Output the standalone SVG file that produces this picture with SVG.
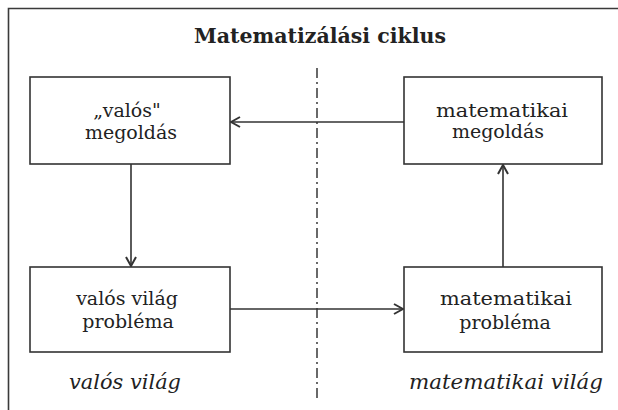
<svg xmlns="http://www.w3.org/2000/svg" width="618" height="410" viewBox="0 0 618 410">
<defs>
<style>
.frame{stroke:#3a3a3a;stroke-width:1.6;fill:none}
.box{fill:#fff;stroke:#333;stroke-width:1.6}
.lbl{font-family:"DejaVu Serif","Liberation Serif",serif;font-size:19px;fill:#222;text-anchor:middle}
.title{font-family:"DejaVu Serif","Liberation Serif",serif;font-size:20px;font-weight:bold;fill:#222;text-anchor:middle}
.world{font-family:"DejaVu Serif","Liberation Serif",serif;font-size:20px;font-style:italic;fill:#222;text-anchor:middle}
.conn{stroke:#333;stroke-width:1.6;fill:none}
.axis{stroke:#444;stroke-width:1.6;stroke-dasharray:10 4 2 4}
</style>
<marker id="arr" viewBox="0 0 12 12" refX="11" refY="6" markerWidth="12" markerHeight="12" markerUnits="userSpaceOnUse" orient="auto">
<path d="M2,1 L11,6 L2,11" fill="none" stroke="#333" stroke-width="2"/>
</marker>
</defs>
<rect width="618" height="410" fill="#fff"/>
<path class="frame" d="M8.5,410 V8.5 H618"/>
<text class="title" x="320" y="43" textLength="252" lengthAdjust="spacingAndGlyphs">Matematizálási ciklus</text>
<line class="axis" x1="317" y1="68" x2="317" y2="400"/>
<g id="connectors">
<line class="conn" x1="404" y1="122" x2="231" y2="122" marker-end="url(#arr)"/>
<line class="conn" x1="131" y1="164" x2="131" y2="266" marker-end="url(#arr)"/>
<line class="conn" x1="230" y1="309" x2="403" y2="309" marker-end="url(#arr)"/>
<line class="conn" x1="503" y1="267" x2="503" y2="165" marker-end="url(#arr)"/>
</g>
<g id="valos-megoldas">
<rect class="box" x="30" y="77" width="200" height="87"/>
<text class="lbl" x="127" y="117">„valós"</text>
<text class="lbl" x="131" y="139">megoldás</text>
</g>
<g id="matematikai-megoldas">
<rect class="box" x="404" y="77" width="198" height="87"/>
<text class="lbl" x="502" y="117" textLength="132" lengthAdjust="spacingAndGlyphs">matematikai</text>
<text class="lbl" x="498" y="138">megoldás</text>
</g>
<g id="valos-vilag-problema">
<rect class="box" x="30" y="267" width="200" height="85"/>
<text class="lbl" x="127" y="305">valós világ</text>
<text class="lbl" x="128" y="328">probléma</text>
</g>
<g id="matematikai-problema">
<rect class="box" x="404" y="267" width="198" height="85"/>
<text class="lbl" x="506" y="305" textLength="132" lengthAdjust="spacingAndGlyphs">matematikai</text>
<text class="lbl" x="505" y="329">probléma</text>
</g>
<text class="world" x="125" y="389" textLength="112" lengthAdjust="spacingAndGlyphs">valós világ</text>
<text class="world" x="506" y="389" textLength="194" lengthAdjust="spacingAndGlyphs">matematikai világ</text>
</svg>
